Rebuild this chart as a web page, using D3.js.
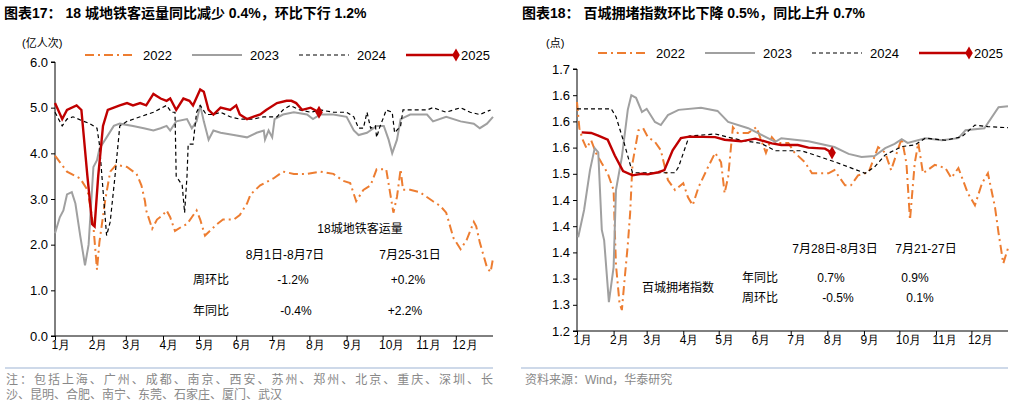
<!DOCTYPE html>
<html><head><meta charset="utf-8">
<script src="https://cdn.jsdelivr.net/npm/d3@7"></script>
<style>body{margin:0;background:#fff;font-family:"Liberation Sans","Noto Sans CJK SC",sans-serif}</style>
</head><body><div id="c"></div>
<script>
// month labels and day offsets
const months = ["1月","2月","3月","4月","5月","6月","7月","8月","9月","10月","11月","12月"];
const monthStart = [0,31,59,90,120,151,181,212,243,273,304,334];
const years = ["2022","2023","2024","2025"];

// 18城地铁客运量 [day, 亿人次]
const metro2022 = [[0,3.95],[10,3.6],[21,3.45],[27,3.2],[29,2.9],[32,2.4],[35,1.45],[37,2.05],[42,3.0],[46,3.6],[51,3.75],[60,3.7],[68,3.55],[72,3.3],[75,2.95],[76,2.75],[81,2.35],[85,2.55],[90,2.65],[93,2.75],[96,2.6],[100,2.3],[106,2.4],[110,2.45],[114,2.6],[118,2.75],[121,2.55],[125,2.2],[129,2.3],[135,2.45],[140,2.55],[149,2.55],[154,2.65],[160,2.9],[163,3.1],[171,3.3],[182,3.45],[190,3.6],[199,3.55],[210,3.55],[221,3.6],[232,3.55],[240,3.4],[246,3.35],[251,2.95],[257,3.2],[263,3.3],[268,3.65],[276,3.65],[282,2.7],[285,3.05],[288,3.65],[290,3.2],[296,3.2],[304,3.15],[315,2.95],[321,2.85],[326,2.7],[332,2.15],[338,1.9],[343,2.1],[349,2.5],[351,2.4],[354,2.05],[360,1.5],[363,1.4],[365,1.7]];
const metro2023 = [[0,2.25],[4,2.6],[7,2.75],[10,3.1],[14,3.15],[17,2.9],[21,2.2],[25,1.55],[28,2.0],[32,3.7],[35,3.85],[37,4.1],[43,4.35],[49,4.6],[54,4.65],[65,4.6],[74,4.55],[82,4.5],[88,4.55],[93,4.6],[96,4.5],[101,4.7],[110,4.75],[114,4.55],[118,4.7],[121,5.05],[124,4.7],[128,4.3],[132,4.5],[138,4.45],[149,4.4],[160,4.35],[168,4.45],[174,4.5],[175,4.3],[178,4.5],[181,4.35],[183,4.75],[190,4.85],[199,4.9],[210,4.85],[215,4.75],[221,4.85],[232,4.85],[243,4.8],[249,4.5],[253,4.4],[260,4.45],[268,4.6],[274,4.6],[278,4.3],[281,4.0],[285,4.3],[288,4.75],[296,4.85],[310,4.85],[315,4.7],[326,4.8],[338,4.7],[349,4.65],[354,4.55],[360,4.65],[365,4.8]];
const metro2024 = [[0,4.9],[6,4.6],[10,4.75],[15,4.8],[24,4.7],[29,4.65],[35,4.55],[37,4.2],[40,3.2],[43,2.2],[46,2.5],[50,3.5],[54,4.6],[60,4.7],[71,4.8],[82,4.9],[93,5.05],[97,4.9],[100,4.9],[101,3.5],[106,3.3],[108,2.7],[110,3.5],[111,4.2],[115,4.2],[118,4.9],[121,5.05],[126,4.85],[132,4.85],[138,4.9],[146,4.8],[154,4.75],[160,4.75],[165,4.75],[174,4.8],[185,4.8],[190,4.95],[196,5.05],[204,4.95],[213,4.9],[221,4.95],[232,4.9],[243,4.9],[249,4.8],[253,4.55],[257,4.55],[260,4.9],[263,4.55],[267,4.6],[268,4.35],[271,4.6],[274,4.8],[276,4.95],[281,4.9],[283,4.45],[288,4.6],[290,4.95],[296,4.95],[310,4.95],[315,5.0],[326,4.9],[338,5.0],[346,4.9],[354,4.85],[363,4.95]];
const metro2025 = [[0,5.1],[6,4.75],[10,4.95],[18,5.05],[22,4.95],[27,3.5],[31,2.45],[33,2.4],[36,3.5],[40,4.6],[44,4.95],[54,5.05],[60,5.1],[65,5.05],[71,5.1],[76,5.05],[82,5.3],[88,5.2],[93,5.15],[96,5.2],[101,4.95],[107,5.2],[112,5.15],[115,5.05],[121,5.4],[124,5.35],[128,4.95],[132,4.85],[138,5.0],[146,4.95],[151,5.05],[154,4.85],[160,4.75],[165,4.8],[171,4.85],[176,4.95],[185,5.1],[193,5.15],[197,5.15],[201,5.1],[206,4.95],[213,5.0],[220,4.9]];

// 百城拥堵指数 [day, 点]
const cong2022 = [[0,1.637],[2,1.587],[5,1.564],[8,1.549],[12,1.564],[16,1.54],[21,1.52],[26,1.501],[31,1.469],[32,1.393],[33,1.326],[36,1.253],[38,1.24],[40,1.291],[43,1.364],[45,1.425],[47,1.52],[52,1.583],[56,1.587],[60,1.57],[66,1.561],[71,1.545],[77,1.488],[83,1.469],[90,1.482],[94,1.455],[98,1.44],[103,1.475],[111,1.513],[117,1.54],[122,1.522],[125,1.463],[128,1.494],[132,1.589],[136,1.578],[145,1.578],[152,1.589],[156,1.564],[160,1.54],[165,1.57],[169,1.559],[179,1.559],[184,1.541],[193,1.522],[199,1.501],[213,1.501],[218,1.507],[227,1.478],[232,1.478],[238,1.497],[247,1.503],[255,1.551],[261,1.54],[266,1.507],[275,1.568],[279,1.52],[282,1.412],[286,1.52],[289,1.559],[293,1.501],[303,1.517],[312,1.511],[317,1.492],[323,1.511],[331,1.463],[337,1.44],[343,1.482],[348,1.501],[354,1.436],[357,1.387],[361,1.329],[365,1.358]];
const cong2023 = [[1,1.379],[6,1.431],[11,1.507],[15,1.549],[18,1.541],[21,1.393],[23,1.373],[27,1.255],[31,1.322],[33,1.469],[38,1.532],[43,1.622],[46,1.65],[50,1.645],[55,1.618],[59,1.624],[66,1.599],[71,1.593],[77,1.612],[86,1.622],[105,1.626],[119,1.62],[128,1.599],[145,1.587],[168,1.561],[173,1.568],[196,1.562],[218,1.551],[230,1.538],[241,1.532],[252,1.534],[261,1.549],[269,1.557],[275,1.566],[280,1.559],[295,1.568],[309,1.564],[323,1.568],[329,1.583],[345,1.587],[357,1.627],[365,1.629]];
const cong2024 = [[0,1.624],[29,1.624],[33,1.609],[40,1.558],[47,1.502],[60,1.502],[83,1.502],[86,1.513],[95,1.572],[117,1.576],[139,1.564],[156,1.558],[168,1.544],[190,1.544],[201,1.536],[218,1.523],[230,1.513],[244,1.501],[252,1.513],[261,1.536],[275,1.552],[286,1.555],[295,1.568],[312,1.564],[326,1.571],[337,1.593],[348,1.59],[365,1.588]];
const cong2025 = [[4,1.579],[12,1.578],[18,1.573],[26,1.565],[32,1.535],[39,1.505],[47,1.497],[55,1.5],[60,1.499],[69,1.503],[74,1.507],[81,1.545],[88,1.568],[95,1.571],[117,1.57],[125,1.565],[139,1.562],[151,1.567],[165,1.558],[173,1.555],[187,1.555],[196,1.55],[210,1.548],[216,1.54]];

const W = 1031, H = 403;
const svg = d3.select("#c").append("svg").attr("width", W).attr("height", H);
const styles = [
  { color: "#ED7D31", dash: "9,4,2,4", w: 2 },
  { color: "#A0A0A0", dash: null, w: 2 },
  { color: "#000", dash: "4,3", w: 1.2 },
  { color: "#C00000", dash: null, w: 2.4 }
];

function panel(o) {
  const g = svg.append("g");
  const x = d3.scaleLinear().domain([0, 365]).range([o.x0, o.x1]);
  const y = d3.scaleLinear().domain(o.ydomain).range([o.y1, o.y0]);

  g.append("text").attr("x", o.tx).attr("y", 18).attr("font-weight", "bold")
    .attr("font-size", 14).text(o.title);
  g.append("text").attr("x", o.ux).attr("y", 47).attr("font-size", 11).text(o.unit);

  // axes
  const ya = d3.axisLeft(y).tickValues(o.yticks).tickSize(4).tickFormat(o.yfmt);
  g.append("g").attr("transform", `translate(${o.x0},0)`).call(ya)
    .call(s => s.selectAll("text").attr("font-size", 13).attr("fill", "#000"))
    .call(s => s.select(".domain").attr("d", `M-4,${o.y1}H0V${o.y0}H-4`));
  const xa = d3.axisBottom(x).tickValues(monthStart).tickSize(4).tickFormat((d, i) => months[i]);
  g.append("g").attr("transform", `translate(0,${o.y1})`).call(xa)
    .call(s => s.selectAll("text").attr("font-size", 12).attr("fill", "#000")
      .attr("text-anchor", "start").attr("dx", -4).attr("dy", 6))
    .call(s => s.select(".domain").attr("d", `M${o.x0},0H${o.x1}`));

  const line = d3.line().x(d => x(d[0])).y(d => y(d[1]));
  o.series.forEach((s, i) => {
    g.append("path").datum(s).attr("d", line).attr("fill", "none")
      .attr("stroke", styles[i].color).attr("stroke-width", styles[i].w)
      .attr("stroke-dasharray", styles[i].dash);
  });
  const last = o.series[3][o.series[3].length - 1];
  g.append("path").attr("d", d3.symbol(d3.symbolDiamond, 50)())
    .attr("transform", `translate(${x(last[0])},${y(last[1])})`).attr("fill", "#C00000");

  // legend
  years.forEach((yr, i) => {
    const lx = o.lx + i * 107;
    g.append("line").attr("x1", lx).attr("x2", lx + 50).attr("y1", o.ly).attr("y2", o.ly)
      .attr("stroke", styles[i].color).attr("stroke-width", styles[i].w)
      .attr("stroke-dasharray", styles[i].dash);
    if (i === 3) g.append("path").attr("d", d3.symbol(d3.symbolDiamond, 50)())
      .attr("transform", `translate(${lx + 50},${o.ly})`).attr("fill", "#C00000");
    g.append("text").attr("x", lx + (i === 3 ? 55 : 58)).attr("y", o.ly + 5)
      .attr("font-size", 13).text(yr);
  });

  o.notes.forEach(n => {
    g.append("text").attr("x", n[0]).attr("y", n[1]).attr("font-size", n[3] || 12)
      .attr("text-anchor", n[4] || "middle").text(n[2]);
  });

  g.append("line").attr("x1", o.sx0).attr("x2", o.x1).attr("y1", 368).attr("y2", 368)
    .attr("stroke", "#9DB3D3").attr("stroke-width", 1.2);
}

panel({
  x0: 55, x1: 493, y0: 62, y1: 336, ydomain: [0, 6], yticks: d3.range(0, 6.1, 1),
  yfmt: d3.format(".1f"), tx: 4, title: "图表17：  18 城地铁客运量同比减少 0.4%，环比下行 1.2%",
  ux: 22, unit: "(亿人次)", lx: 85, ly: 55, sx0: 5,
  series: [metro2022, metro2023, metro2024, metro2025],
  notes: [[360, 233, "18城地铁客运量"], [285, 259, "8月1日-8月7日"], [410, 259, "7月25-31日"],
    [193, 284, "周环比", 12, "start"], [293, 284, "-1.2%"], [408, 284, "+0.2%"],
    [193, 315, "年同比", 12, "start"], [296, 315, "-0.4%"], [405, 315, "+2.2%"]]
});

panel({
  x0: 577, x1: 1008, y0: 69, y1: 331, ydomain: [1.2, 1.7], yticks: d3.range(0, 11).map(i => 1.2 + i * 0.05),
  yfmt: d3.format(".1f"), tx: 522, title: "图表18：  百城拥堵指数环比下降 0.5%，同比上升 0.7%",
  ux: 546, unit: "(点)", lx: 598, ly: 53, sx0: 521,
  series: [cong2022, cong2023, cong2024, cong2025],
  notes: [[835, 253, "7月28日-8月3日"], [926, 253, "7月21-27日"],
    [642, 292, "百城拥堵指数", 12, "start"], [742, 282, "年同比", 12, "start"], [831, 282, "0.7%"], [915, 282, "0.9%"],
    [742, 302, "周环比", 12, "start"], [838, 302, "-0.5%"], [920, 302, "0.1%"]]
});

svg.append("text").attr("x", 6).attr("y", 384).attr("font-size", 12).attr("fill", "#888")
  .attr("textLength", 487).text("注：包括上海、广州、成都、南京、西安、苏州、郑州、北京、重庆、深圳、长");
svg.append("text").attr("x", 6).attr("y", 399).attr("font-size", 12).attr("fill", "#888")
  .text("沙、昆明、合肥、南宁、东莞、石家庄、厦门、武汉");
svg.append("text").attr("x", 525).attr("y", 384).attr("font-size", 12).attr("fill", "#888")
  .text("资料来源：Wind，华泰研究");
</script></body></html>
